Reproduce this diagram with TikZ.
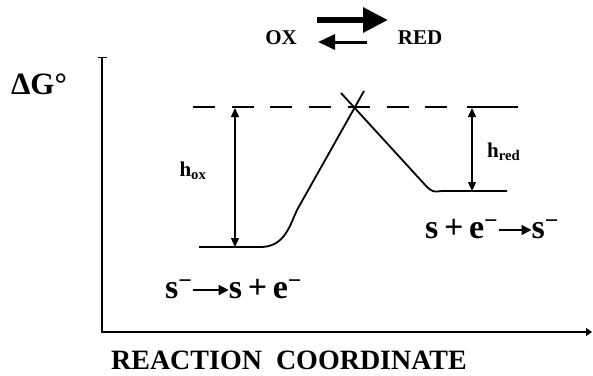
\documentclass[tikz,border=0pt]{standalone}
\usepackage{fontspec}
\setmainfont{Liberation Serif}
\usetikzlibrary{positioning, arrows.meta}

\newcommand{\chg}{\textsuperscript{\textbf{−}}}

\begin{document}
\begin{tikzpicture}[x=1pt, y=-1pt, >=Triangle,
  axis/.style={line width=1.3pt},
  curve/.style={line width=1.8pt, line join=round},
  level/.style={line width=2.4pt},
  gap/.style={<->, line width=1.2pt, >={Triangle[length=9pt, width=8pt]}},
  big/.style={font=\bfseries\fontsize{31}{33}\selectfont, inner sep=0pt},
  lbl/.style={font=\bfseries\fontsize{21}{24}\selectfont, inner sep=0pt},
  hlbl/.style={font=\bfseries\fontsize{21}{23}\selectfont, inner sep=0pt},
  eqn/.style={font=\bfseries\fontsize{34}{36}\selectfont, inner sep=0pt,
    text height=16pt, text depth=0pt},
  rxn/.style={line width=1.6pt, -{Triangle[length=10pt, width=10pt]}}]
  \useasboundingbox (0,0) rectangle (593,375);

  % axes
  \coordinate (ytop) at (102,57);
  \coordinate (origin) at (102,332);
  \coordinate (xend) at (592,332);
  \draw[axis, {Bar[width=9pt]}-{Triangle[length=6pt, width=8pt]}] (ytop) -- (origin) -- (xend);
  \node[big] (dg) at (39,84) {ΔG°};
  \node[big, font=\bfseries\fontsize{28}{30}\selectfont, anchor=base] (xlabel) at (289,369) {REACTION\ \ COORDINATE};

  % OX / RED equilibrium
  \node[lbl] (ox) at (281,38) {OX};
  \node[lbl] (red) at (420,38) {RED};
  \coordinate (fwdA) at (317,20);
  \coordinate (fwdB) at (388,20);
  \coordinate (bckA) at (367,42);
  \coordinate (bckB) at (318,42);
  \draw[line width=6pt, -{Triangle[length=25pt, width=24pt]}] (fwdA) -- (fwdB);
  \draw[line width=3pt, -{Triangle[length=17pt, width=15pt]}] (bckA) -- (bckB);

  % energy levels
  \draw[level, dash pattern=on 22pt off 16.7pt] (193,107) -- (447,107);
  \draw[level] (467,107) -- (518,107);
  \coordinate (oxL) at (199,247);
  \coordinate (oxR) at (262,247);
  \coordinate (upA) at (297,210);
  \coordinate (upB) at (364,91);
  \coordinate (dnA) at (341,93);
  \coordinate (dnB) at (427,187);
  \coordinate (redL) at (442,191);
  \coordinate (redR) at (507,191);
  \draw[curve] (oxL) -- (oxR) .. controls (285,246) and (290,225) .. (upA) -- (upB);
  \draw[curve] (dnA) -- (dnB) .. controls (433,192) .. (redL) -- (redR);

  % barrier heights
  \coordinate (hoxT) at (235,108);
  \coordinate (hoxB) at (235,247);
  \coordinate (hredT) at (472,108);
  \coordinate (hredB) at (472,191);
  \draw[gap] (hoxT) -- (hoxB);
  \draw[gap] (hredT) -- (hredB);
  \node[hlbl] (hox) at (193,171) {h\textsubscript{ox}};
  \node[hlbl, anchor=west] (hred) at (487,152) {h\textsubscript{red}};

  % half reactions
  \node[eqn, anchor=west] (sminL) at (165,290) {s\chg};
  \node[eqn, right=36pt of sminL] (sproL) {s\,+\,e\chg};
  \draw[rxn] (sminL) -- (sproL);
  \node[eqn, anchor=west] (sproR) at (425,230) {s\,+\,e\chg};
  \node[eqn, right=33pt of sproR] (sminR) {s\chg};
  \draw[rxn] (sproR) -- (sminR);
\end{tikzpicture}
\end{document}
